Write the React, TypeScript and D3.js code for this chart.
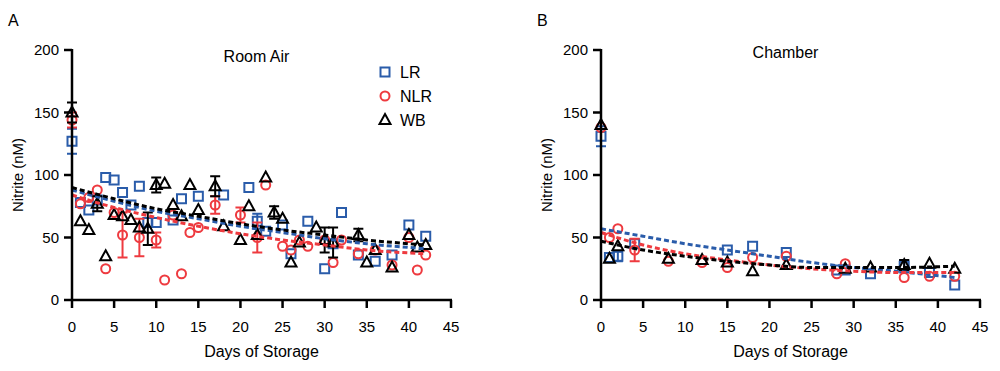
import React from 'react';
import * as d3 from 'd3';

type Pt = { d: number; v: number; e?: number };

// Room Air panel (A)
const airLR: Pt[] = [
  { d: 0, v: 127, e: 10 }, { d: 1, v: 78 }, { d: 2, v: 72 }, { d: 3, v: 80 }, { d: 4, v: 98 },
  { d: 5, v: 96 }, { d: 6, v: 86 }, { d: 7, v: 76 }, { d: 8, v: 91 }, { d: 9, v: 62 },
  { d: 10, v: 62 }, { d: 12, v: 64 }, { d: 13, v: 81 }, { d: 15, v: 83 }, { d: 18, v: 84 },
  { d: 21, v: 90 }, { d: 22, v: 63, e: 6 }, { d: 23, v: 55 }, { d: 25, v: 60 }, { d: 26, v: 37 },
  { d: 28, v: 63 }, { d: 30, v: 25 }, { d: 31, v: 45 }, { d: 32, v: 70 }, { d: 34, v: 36 },
  { d: 36, v: 31 }, { d: 38, v: 36 }, { d: 40, v: 60 }, { d: 42, v: 51 },
];
const airNLR: Pt[] = [
  { d: 0, v: 144, e: 6 }, { d: 1, v: 77 }, { d: 2, v: 82 }, { d: 3, v: 88 }, { d: 4, v: 25 },
  { d: 5, v: 70 }, { d: 6, v: 52, e: 18 }, { d: 8, v: 50, e: 15 }, { d: 10, v: 48, e: 6 },
  { d: 11, v: 16 }, { d: 12, v: 68 }, { d: 13, v: 21 }, { d: 14, v: 54 }, { d: 15, v: 58 },
  { d: 17, v: 76, e: 7 }, { d: 20, v: 68, e: 6 }, { d: 22, v: 50, e: 12 }, { d: 23, v: 92 },
  { d: 25, v: 43 }, { d: 26, v: 40 }, { d: 27, v: 48 }, { d: 28, v: 43 }, { d: 30, v: 48 },
  { d: 31, v: 30 }, { d: 32, v: 48 }, { d: 34, v: 37 }, { d: 36, v: 40 }, { d: 38, v: 28 },
  { d: 40, v: 50 }, { d: 41, v: 24 }, { d: 42, v: 36 },
];
const airWB: Pt[] = [
  { d: 0, v: 150, e: 8 }, { d: 1, v: 63 }, { d: 2, v: 56 }, { d: 3, v: 77, e: 6 }, { d: 4, v: 35 },
  { d: 5, v: 68 }, { d: 6, v: 67 }, { d: 7, v: 64 }, { d: 8, v: 58 }, { d: 9, v: 57, e: 13 },
  { d: 10, v: 92, e: 6 }, { d: 11, v: 93 }, { d: 12, v: 76 }, { d: 13, v: 67 }, { d: 14, v: 92 },
  { d: 15, v: 72 }, { d: 17, v: 91, e: 8 }, { d: 18, v: 59 }, { d: 20, v: 48 }, { d: 21, v: 75 },
  { d: 22, v: 52 }, { d: 23, v: 98 }, { d: 24, v: 70, e: 5 }, { d: 25, v: 65 }, { d: 26, v: 30 },
  { d: 27, v: 46 }, { d: 29, v: 58 }, { d: 30, v: 48, e: 10 }, { d: 31, v: 46, e: 12 },
  { d: 34, v: 52, e: 5 }, { d: 35, v: 30 }, { d: 36, v: 40 }, { d: 38, v: 26 }, { d: 40, v: 52 },
  { d: 41, v: 42 }, { d: 42, v: 44 },
];

// Chamber panel (B)
const chLR: Pt[] = [
  { d: 0, v: 131, e: 8 }, { d: 1, v: 34 }, { d: 2, v: 35, e: 4 }, { d: 4, v: 45 }, { d: 15, v: 40 },
  { d: 18, v: 43 }, { d: 22, v: 38 }, { d: 28, v: 24 }, { d: 29, v: 24 }, { d: 32, v: 21 },
  { d: 36, v: 27, e: 5 }, { d: 39, v: 22 }, { d: 42, v: 12 },
];
const chNLR: Pt[] = [
  { d: 0, v: 138 }, { d: 1, v: 50 }, { d: 2, v: 57 }, { d: 4, v: 40, e: 9 }, { d: 8, v: 31 },
  { d: 12, v: 30 }, { d: 15, v: 26 }, { d: 18, v: 34 }, { d: 22, v: 35 }, { d: 28, v: 21 },
  { d: 29, v: 29 }, { d: 36, v: 18 }, { d: 39, v: 19 }, { d: 42, v: 19 },
];
const chWB: Pt[] = [
  { d: 0, v: 140 }, { d: 1, v: 33 }, { d: 2, v: 43 }, { d: 8, v: 33 }, { d: 12, v: 32 },
  { d: 15, v: 30 }, { d: 18, v: 23 }, { d: 22, v: 28 }, { d: 29, v: 25 }, { d: 32, v: 26 },
  { d: 36, v: 28, e: 4 }, { d: 39, v: 29 }, { d: 42, v: 25 },
];

// fitted decay curves
const fitDays = [0, 5, 10, 15, 20, 25, 30, 35, 42];
const airFitLR = [88, 79, 71, 65, 59, 54, 49, 45, 41];
const airFitNLR = [84, 74, 66, 59, 53, 48, 44, 40, 37];
const airFitWB = [90, 81, 73, 67, 61, 56, 52, 48, 44];
const chFitLR = [57, 51, 45, 40, 35, 30, 26, 23, 18];
const chFitNLR = [54, 44, 37, 32, 28, 25, 23, 22, 22];
const chFitWB = [47, 40, 35, 31, 28, 26, 26, 26, 27];

const xTicks = [0, 5, 10, 15, 20, 25, 30, 35, 40, 45];
const yTicks = [0, 50, 100, 150, 200];

const BLUE = '#2a5caa';
const RED = '#ee3a3f';
const BLACK = '#000';
const FONT = 'Liberation Sans, Arial, Helvetica, sans-serif';

const Marker = ({ kind, x, y, color }: { kind: string; x: number; y: number; color: string }) => {
  if (kind === 'square')
    return <rect x={x - 4.5} y={y - 4.5} width={9} height={9} fill="none" stroke={color} strokeWidth={2} />;
  if (kind === 'circle')
    return <circle cx={x} cy={y} r={4.5} fill="none" stroke={color} strokeWidth={2} />;
  return (
    <path d={`M${x},${y - 6}L${x + 5.5},${y + 4}L${x - 5.5},${y + 4}Z`} fill="none" stroke={color} strokeWidth={2} />
  );
};

type Series = { pts: Pt[]; fit: number[]; color: string; kind: string };

const Panel = ({ left, label, title, titleY, series, legend }: {
  left: number; label: string; title: string; titleY: number; series: Series[]; legend?: boolean;
}) => {
  const x = d3.scaleLinear().domain([0, 45]).range([left, left + 379]);
  const y = d3.scaleLinear().domain([0, 200]).range([300, 50]);
  const line = d3.line<number>()
    .x((_, i) => x(fitDays[i]))
    .y(v => y(v))
    .curve(d3.curveMonotoneX);

  return (
    <g fontFamily={FONT}>
      <text x={left - 64} y={26} fontSize={16}>{label}</text>
      <text x={x(22.5) - 5} y={titleY} fontSize={16} textAnchor="middle">{title}</text>

      {series.map((s, i) => (
        <g key={i}>
          {s.pts.filter(p => p.e).map((p, j) => (
            <g key={j} stroke={s.color} strokeWidth={2}>
              <line x1={x(p.d)} x2={x(p.d)} y1={y(p.v - p.e!)} y2={y(p.v + p.e!)} />
              <line x1={x(p.d) - 5} x2={x(p.d) + 5} y1={y(p.v - p.e!)} y2={y(p.v - p.e!)} />
              <line x1={x(p.d) - 5} x2={x(p.d) + 5} y1={y(p.v + p.e!)} y2={y(p.v + p.e!)} />
            </g>
          ))}
          {s.pts.map((p, j) => (
            <Marker key={j} kind={s.kind} x={x(p.d)} y={y(p.v)} color={s.color} />
          ))}
        </g>
      ))}
      {series.map((s, i) => (
        <path key={i} d={line(s.fit) || ''} fill="none" stroke={s.color} strokeWidth={3} strokeDasharray="5,3" />
      ))}

      {/* y axis */}
      <line x1={x(0)} x2={x(0)} y1={y(200) - 1} y2={y(0) + 1} stroke="#000" strokeWidth={2.5} />
      {yTicks.map(t => (
        <g key={t}>
          <line x1={x(0) - 8} x2={x(0)} y1={y(t)} y2={y(t)} stroke="#000" strokeWidth={2.5} />
          <text x={x(0) - 13} y={y(t) + 5} fontSize={15} textAnchor="end">{t}</text>
        </g>
      ))}
      <text transform={`translate(${left - 49},${y(100)}) rotate(-90)`} fontSize={15} textAnchor="middle">Nitrite (nM)</text>

      {/* x axis */}
      <line x1={x(0) - 1} x2={x(45) + 1} y1={y(0)} y2={y(0)} stroke="#000" strokeWidth={2.5} />
      {xTicks.map(t => (
        <g key={t}>
          <line x1={x(t)} x2={x(t)} y1={y(0)} y2={y(0) + 8} stroke="#000" strokeWidth={2.5} />
          <text x={x(t)} y={y(0) + 32} fontSize={15} textAnchor="middle">{t}</text>
        </g>
      ))}
      <text x={x(22.5)} y={357} fontSize={16} textAnchor="middle">Days of Storage</text>

      {legend && (
        <g>
          {[['LR', 'square', BLUE], ['NLR', 'circle', RED], ['WB', 'triangle', BLACK]].map(([name, kind, color], i) => (
            <g key={name}>
              <Marker kind={kind} x={385} y={72 + i * 24} color={color} />
              <text x={400} y={78 + i * 24} fontSize={16}>{name}</text>
            </g>
          ))}
        </g>
      )}
    </g>
  );
};

export default function App() {
  return (
    <svg width={1000} height={371} style={{ position: 'absolute', left: 0, top: 0, background: '#fff' }}>
      <Panel
        left={72}
        label="A"
        title="Room Air"
        titleY={62}
        legend
        series={[
          { pts: airLR, fit: airFitLR, color: BLUE, kind: 'square' },
          { pts: airNLR, fit: airFitNLR, color: RED, kind: 'circle' },
          { pts: airWB, fit: airFitWB, color: BLACK, kind: 'triangle' },
        ]}
      />
      <Panel
        left={601}
        label="B"
        title="Chamber"
        titleY={58}
        series={[
          { pts: chLR, fit: chFitLR, color: BLUE, kind: 'square' },
          { pts: chNLR, fit: chFitNLR, color: RED, kind: 'circle' },
          { pts: chWB, fit: chFitWB, color: BLACK, kind: 'triangle' },
        ]}
      />
    </svg>
  );
}
